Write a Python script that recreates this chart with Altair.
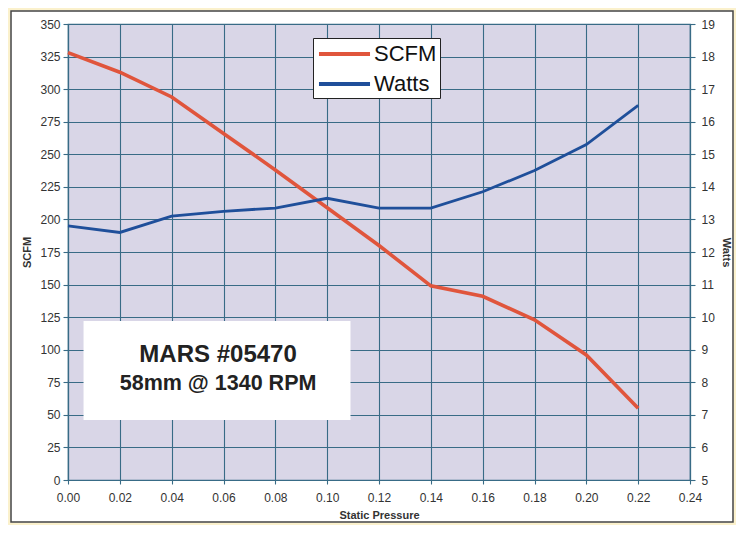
import altair as alt
import pandas as pd

# ---- data ----
pressure = [0.00, 0.02, 0.04, 0.06, 0.08, 0.10, 0.12, 0.14, 0.16, 0.18, 0.20, 0.22]
scfm = [328, 313, 294, 266, 238, 209, 180, 149, 141, 123, 96, 55]
watts = [12.8, 12.6, 13.1, 13.25, 13.35, 13.65, 13.35, 13.35, 13.85, 14.5, 15.3, 16.5]
series = ["SCFM", "Watts"]
x_ticks = [0.00, 0.02, 0.04, 0.06, 0.08, 0.10, 0.12, 0.14, 0.16, 0.18, 0.20, 0.22, 0.24]
scfm_ticks = list(range(0, 351, 25))
watts_ticks = list(range(5, 20))
note_lines = ["MARS #05470", "58mm @ 1340 RPM"]
note_x = [0.0579, 0.0579]
note_y = [96, 74]
note_box_x = [0.006, 0.109]
note_box_y = [46, 122]

RED = "#e0553c"
BLUE = "#1f4f9a"
GRID = "#386b86"
FONT = "Arial"

W, H = 622, 456

scfm_df = pd.DataFrame({"p": pressure, "v": scfm, "s": series[0]})
watts_df = pd.DataFrame({"p": pressure, "v": watts, "s": series[1]})
note_df = pd.DataFrame({"p": note_x, "v": note_y, "t": note_lines,
                        "fs": [24, 21.5]})
box_df = pd.DataFrame({"p": [note_box_x[0]], "p2": [note_box_x[1]],
                       "v": [note_box_y[0]], "v2": [note_box_y[1]]})

xscale = alt.Scale(domain=[0, 0.24], nice=False)
yscale_l = alt.Scale(domain=[0, 350], nice=False)
yscale_r = alt.Scale(domain=[5, 19], nice=False)

color = alt.Color(
    "s:N",
    scale=alt.Scale(domain=series, range=[RED, BLUE]),
    legend=alt.Legend(
        title=None, orient="none", legendX=245, legendY=14,
        fillColor="white", strokeColor="#222",
        padding=3, symbolType="M-2.32,0H2.32", symbolSize=484,
        symbolStrokeWidth=4, symbolOffset=15.5, labelOffset=16.5,
        labelFont=FONT, labelFontSize=22, labelColor="#111",
        rowPadding=6,
    ),
)

x_axis = alt.Axis(values=x_ticks, format=".2f", title="Static Pressure",
                  labelPadding=8, tickSize=4, titlePadding=6, labelFlush=False)
y_axis_l = alt.Axis(values=scfm_ticks, title="SCFM", orient="left",
                    tickSize=5, labelPadding=3, titlePadding=7)

frame_cream = alt.Chart(alt.Data(values=[{"a": 1}])).mark_rect(
    fillOpacity=0, stroke="#fbf1cc", strokeWidth=5
).encode(x=alt.value(-60), x2=alt.value(W + 46), y=alt.value(-16), y2=alt.value(H + 45))

frame = alt.Chart(alt.Data(values=[{"a": 1}])).mark_rect(
    fillOpacity=0, stroke="#444", strokeWidth=1.5
).encode(x=alt.value(-57), x2=alt.value(W + 43), y=alt.value(-13), y2=alt.value(H + 42))

box = alt.Chart(box_df).mark_rect(fill="white").encode(
    x=alt.X("p:Q", scale=xscale, axis=x_axis), x2="p2",
    y=alt.Y("v:Q", scale=yscale_l, axis=y_axis_l), y2="v2",
)

note = alt.Chart(note_df).mark_text(font=FONT, fontWeight="bold", color="#222").encode(
    x=alt.X("p:Q", scale=xscale, axis=x_axis),
    y=alt.Y("v:Q", scale=yscale_l, axis=y_axis_l),
    text="t:N",
    size=alt.Size("fs:Q", scale=None, legend=None),
)

scfm_line = alt.Chart(scfm_df).mark_line(strokeWidth=3.6).encode(
    x=alt.X("p:Q", scale=xscale, axis=x_axis),
    y=alt.Y("v:Q", scale=yscale_l, axis=y_axis_l),
    color=color,
)

watts_line = alt.Chart(watts_df).mark_line(strokeWidth=2.8).encode(
    x=alt.X("p:Q", scale=xscale, axis=x_axis),
    y=alt.Y("v:Q", scale=yscale_r,
            axis=alt.Axis(values=watts_ticks, title="Watts", orient="right",
                          grid=False, tickSize=5, labelPadding=6, titlePadding=6)),
    color=color,
)

left = alt.layer(frame_cream, frame, box, note, scfm_line)
chart = alt.layer(left, watts_line).resolve_scale(y="independent").properties(
    width=W, height=H,
    autosize=alt.AutoSizeParams(type="none"),
    padding={"left": 60, "top": 16, "right": 46, "bottom": 45},
    background="white",
).configure_view(
    fill="#d9d6e7", stroke=GRID, strokeWidth=1.2
).configure_axis(
    gridColor=GRID, gridWidth=1.1, gridOpacity=1,
    domainColor=GRID, domainWidth=1.2, tickColor=GRID, tickWidth=1.1,
    labelFont=FONT, labelFontSize=12, labelColor="#333",
    titleFont=FONT, titleFontSize=11, titleFontWeight="bold", titleColor="#333",
)

chart.save("out.html", embed_options={"renderer": "svg", "actions": False})
